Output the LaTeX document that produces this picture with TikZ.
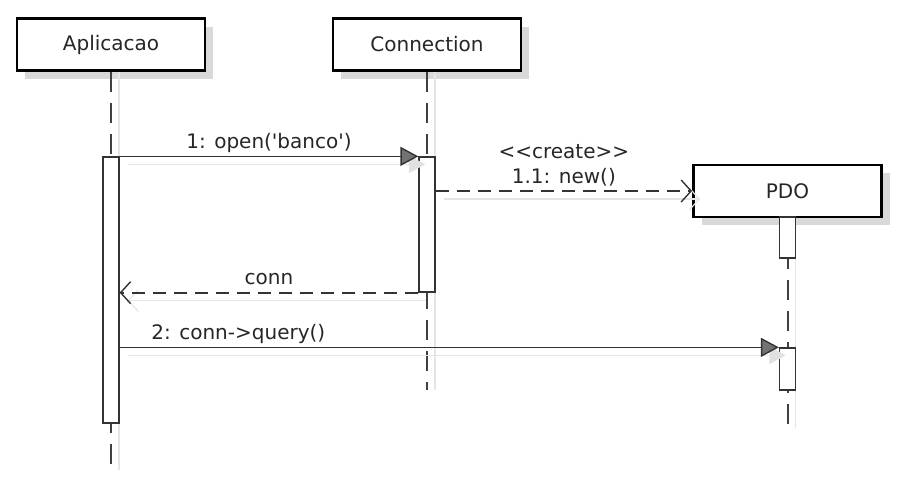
\documentclass[tikz,border=0pt]{standalone}
\usepackage{fontspec}
\newfontfamily\umlfont{DejaVu Sans}
\usetikzlibrary{arrows.meta,shadows}

\tikzset{
  umltext/.style={font=\umlfont\fontsize{20}{25}\selectfont, text=black!85},
  object/.style={umltext, draw=black, line width=2.8pt, fill=white,
    minimum width=188pt, minimum height=52pt,
    drop shadow={shadow xshift=8pt, shadow yshift=-8pt, fill=black!15, opacity=1}},
  lifeline/.style={draw=black!75, line width=2pt, dash pattern=on 20pt off 11pt,
    preaction={draw=black!10, solid, line width=1.2pt, transform canvas={xshift=8pt}}},
  actbar/.style={draw=black!80, line width=1.3pt, fill=white, minimum width=16pt, inner sep=0pt},
  msg/.style={draw=black!80, line width=1.4pt},
  call/.style={msg, -{Triangle[length=18pt,width=19pt,fill=black!55]},
    preaction={draw=black!10, -{Triangle[length=18pt,width=19pt,fill=black!12]},
      transform canvas={shift={(8pt,-8pt)}}}},
  answer/.style={msg, line width=1.8pt, dash pattern=on 13pt off 8pt,
    -{Straight Barb[length=10pt,width=22pt,line width=1.4pt]},
    preaction={draw=black!10, solid, line width=1.2pt, -{Straight Barb[length=10pt,width=22pt]},
      transform canvas={shift={(8pt,-8pt)}}}},
  msglabel/.style={umltext, inner sep=0pt, text depth=0pt, above=7pt}
}

\begin{document}
\begin{tikzpicture}[x=1pt,y=-1pt]
  \useasboundingbox (0,0) rectangle (914,477);
  % objects
  \node[object] (app) at (111,44.5) {Aplicacao};
  \node[object] (conx) at (427,44.5) {Connection};
  \node[object] (pdo) at (787.5,191) {PDO};
  % lifelines
  \coordinate (appEnd) at (111,470);
  \coordinate (conxEnd) at (427,390);
  \coordinate (pdoEnd) at (787.5,428);
  \draw[lifeline] (app) -- (appEnd);
  \draw[lifeline] (conx) -- (conxEnd);
  \draw[lifeline] (pdo) -- (pdoEnd);
  % activations
  \node[actbar, minimum height=266pt] (appAct) at (111,290) {};
  \node[actbar, minimum height=135pt] (conxAct) at (427,224.5) {};
  \node[actbar, minimum height=41pt] (pdoActA) at (787.5,237.5) {};
  \node[actbar, minimum height=42pt] (pdoActB) at (787.5,369) {};
  % messages
  \draw[call] (appAct.north east) -- (conxAct.north west)
    node[msglabel, midway] {1: open('banco')};
  \draw[answer] (conxAct.east |- pdo.west) -- (pdo.west)
    node[msglabel, midway, align=center] {<<create>>\\1.1: new()};
  \draw[answer] (conxAct.south west) -- (appAct.east |- conxAct.south)
    node[msglabel, midway] {conn};
  \draw[call] (appAct.east |- pdoActB.north) -- (pdoActB.north west)
    node[msglabel, pos=0.18] {2: conn->query()};
\end{tikzpicture}
\end{document}
